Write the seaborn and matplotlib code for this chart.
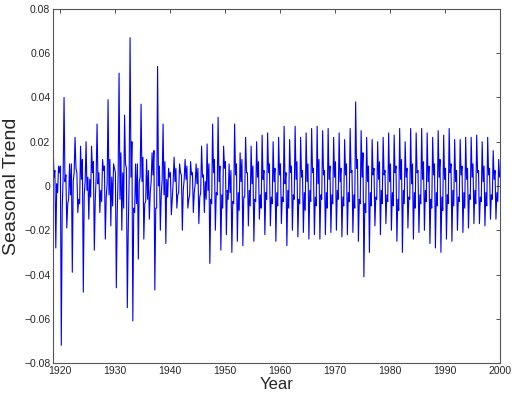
import numpy as np
import pandas as pd
import matplotlib
matplotlib.use("Agg")
import matplotlib.pyplot as plt
import seaborn as sns

# yearly values (1919 .. 2000)
years = list(range(1919, 2001))

peaks = [0.021, 0.009, 0.040, 0.010, 0.022, 0.018, 0.020, 0.018, 0.028, 0.012,
         0.039, 0.010, 0.051, 0.032, 0.067, 0.010, 0.037, 0.012, 0.015, 0.054,
         0.028, 0.008, 0.013, 0.010, 0.012, 0.011, 0.010, 0.018, 0.019, 0.028,
         0.031, 0.018, 0.010, 0.028, 0.015, 0.022, 0.018, 0.020, 0.023, 0.024,
         0.020, 0.022, 0.027, 0.021, 0.027, 0.022, 0.024, 0.026, 0.027, 0.025,
         0.026, 0.022, 0.024, 0.021, 0.026, 0.038, 0.025, 0.022, 0.021, 0.020,
         0.022, 0.024, 0.023, 0.026, 0.020, 0.026, 0.024, 0.026, 0.024, 0.022,
         0.025, 0.023, 0.026, 0.021, 0.021, 0.022, 0.022, 0.023, 0.020, 0.022,
         0.016, 0.012]

after_peak = [0.004, 0.006, 0.002, -0.004, 0.008, 0.003, -0.002, 0.006, 0.001, 0.007,
              -0.004, 0.008, -0.006, 0.010, 0.004, -0.008, 0.002, -0.006, 0.005, 0.000,
              -0.004, 0.004, 0.002, 0.006, 0.003, 0.005, 0.001, 0.004, -0.002, 0.006,
              0.002, 0.008, -0.003, 0.005, 0.002, 0.006, 0.001, 0.004, 0.003, 0.006,
              0.002, 0.005, 0.001, 0.006, 0.003, 0.004, 0.002, 0.006, 0.001, 0.005,
              0.003, 0.004, 0.002, 0.005, 0.006, 0.008, 0.004, 0.002, 0.005, 0.003,
              0.005, 0.002, 0.006, 0.003, 0.004, 0.001, 0.006, 0.003, 0.002, 0.005,
              0.004, 0.003, 0.006, 0.002, 0.005, 0.003, 0.004, 0.006, 0.002, 0.005,
              0.003, 0.004]

bumps = [0.007, 0.009, 0.005, 0.010, 0.006, 0.012, 0.004, 0.011, 0.006, 0.009,
         0.012, 0.006, 0.015, 0.008, 0.020, 0.010, 0.013, 0.007, 0.016, 0.009,
         0.011, 0.006, 0.008, 0.005, 0.009, 0.006, 0.008, 0.005, 0.010, 0.012,
         0.009, 0.011, 0.007, 0.010, 0.012, 0.006, 0.009, 0.011, 0.007, 0.010,
         0.008, 0.010, 0.006, 0.009, 0.011, 0.007, 0.010, 0.008, 0.012, 0.007,
         0.009, 0.011, 0.008, 0.010, 0.007, 0.012, 0.015, 0.009, 0.008, 0.011,
         0.007, 0.010, 0.009, 0.012, 0.008, 0.010, 0.007, 0.011, 0.009, 0.010,
         0.012, 0.008, 0.010, 0.007, 0.009, 0.008, 0.010, 0.007, 0.009, 0.008,
         0.007, 0.006]

troughs = [-0.028, -0.072, -0.019, -0.039, -0.012, -0.048, -0.015, -0.029, -0.012, -0.024,
           -0.018, -0.046, -0.020, -0.055, -0.061, -0.033, -0.024, -0.015, -0.047, -0.020,
           -0.026, -0.013, -0.010, -0.020, -0.010, -0.012, -0.017, -0.012, -0.035, -0.020,
           -0.029, -0.022, -0.030, -0.025, -0.027, -0.018, -0.025, -0.015, -0.022, -0.018,
           -0.025, -0.017, -0.027, -0.020, -0.023, -0.021, -0.024, -0.022, -0.024, -0.022,
           -0.021, -0.020, -0.023, -0.022, -0.021, -0.025, -0.041, -0.030, -0.018, -0.022,
           -0.017, -0.020, -0.025, -0.030, -0.019, -0.024, -0.021, -0.020, -0.026, -0.028,
           -0.030, -0.024, -0.025, -0.020, -0.021, -0.019, -0.017, -0.017, -0.018, -0.015,
           -0.015, -0.008]

after_trough = [0.001, -0.010, -0.008, 0.002, -0.006, -0.004, 0.003, -0.007, -0.002, -0.005,
                0.004, -0.012, 0.006, -0.020, -0.010, 0.002, -0.008, -0.003, -0.010, -0.004,
                0.003, -0.006, -0.004, -0.002, -0.006, -0.003, -0.005, 0.002, -0.006, -0.003,
                -0.004, -0.002, -0.007, -0.003, -0.005, -0.002, -0.006, -0.004, -0.003, -0.005,
                -0.003, -0.005, -0.002, -0.004, -0.006, -0.003, -0.002, -0.005, -0.004, -0.003,
                -0.004, -0.002, -0.005, -0.003, -0.004, -0.006, -0.008, -0.003, -0.005, -0.002,
                -0.004, -0.003, -0.006, -0.002, -0.005, -0.003, -0.004, -0.002, -0.006, -0.003,
                -0.005, -0.004, -0.002, -0.005, -0.003, -0.004, -0.002, -0.005, -0.003, -0.004,
                -0.003, -0.002]

dips = [-0.003, 0.004, -0.006, 0.006, -0.008, 0.002, -0.005, 0.004, -0.007, 0.001,
        -0.009, 0.005, -0.010, 0.003, -0.012, 0.004, -0.007, 0.002, -0.010, 0.003,
        -0.005, 0.002, -0.003, 0.003, -0.004, 0.001, -0.003, -0.006, -0.008, -0.004,
        -0.010, -0.006, -0.008, -0.011, -0.005, -0.009, -0.007, -0.010, -0.006, -0.008,
        -0.009, -0.007, -0.010, -0.006, -0.008, -0.011, -0.007, -0.009, -0.006, -0.010,
        -0.008, -0.006, -0.009, -0.007, -0.010, -0.008, -0.012, -0.009, -0.006, -0.008,
        -0.007, -0.009, -0.011, -0.008, -0.006, -0.010, -0.008, -0.007, -0.010, -0.009,
        -0.011, -0.008, -0.009, -0.007, -0.010, -0.006, -0.008, -0.007, -0.009, -0.006,
        -0.007, -0.005]

y_ticks = [-0.08, -0.06, -0.04, -0.02, 0, 0.02, 0.04, 0.06, 0.08]
y_labels = ["\u22120.08", "\u22120.06", "\u22120.04", "\u22120.02", "0",
            "0.02", "0.04", "0.06", "0.08"]
x_ticks = [1920, 1930, 1940, 1950, 1960, 1970, 1980, 1990, 2000]

# six readings per year: peak, fall, bump, trough, rise, dip
rows = []
for i, yr in enumerate(years):
    vals = [peaks[i], after_peak[i], bumps[i], troughs[i], after_trough[i], dips[i]]
    for k, v in enumerate(vals):
        rows.append((yr - 0.25 + k / 6.0, v))
df = pd.DataFrame(rows, columns=["Year", "Seasonal Trend"])

sns.set_style("white")
plt.rcParams["font.family"] = ["Liberation Sans", "DejaVu Sans"]

fig = plt.figure(figsize=(5.15, 3.96), dpi=100)
ax = fig.add_axes([0.103, 0.0833, 0.868, 0.894])
sns.lineplot(data=df, x="Year", y="Seasonal Trend", ax=ax, color="#0000ff",
             linewidth=0.8, estimator=None, sort=False)

ax.set_xlim(1918.75, 2000)
ax.set_ylim(-0.08, 0.08)
ax.set_xticks(x_ticks)
ax.set_xticklabels([str(t) for t in x_ticks], fontsize=7.5)
ax.set_yticks(y_ticks)
ax.set_yticklabels(y_labels, fontsize=7.5)
ax.tick_params(direction="in", length=3, width=0.6, top=True, right=True,
               color="#333333", pad=2)
for s in ax.spines.values():
    s.set_color("#555555")
    s.set_linewidth(0.8)
ax.set_xlabel("Year", fontsize=12, labelpad=1)
ax.set_ylabel("Seasonal Trend", fontsize=14, labelpad=3)

fig.savefig("out.png", dpi=100)
